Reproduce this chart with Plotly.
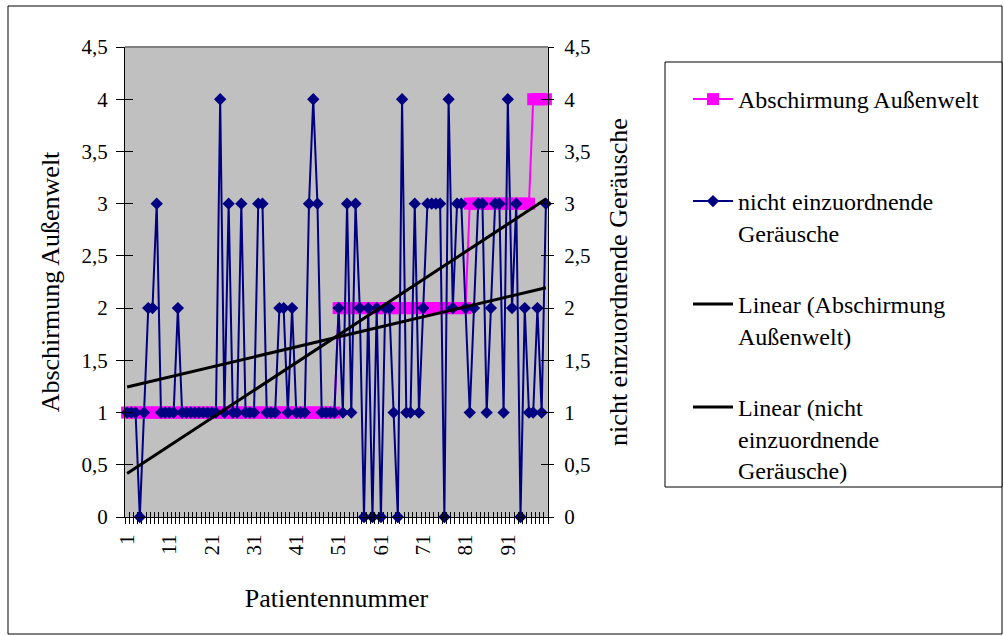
import numpy as np
import plotly.graph_objects as go

# Patient numbers (category axis)
patients = list(range(1, 101))

# Rating "Abschirmung Außenwelt" per patient
abschirmung = [
    1, 1, 1, 1, 1, 1, 1, 1, 1, 1,
    1, 1, 1, 1, 1, 1, 1, 1, 1, 1,
    1, 1, 1, 1, 1, 1, 1, 1, 1, 1,
    1, 1, 1, 1, 1, 1, 1, 1, 1, 1,
    1, 1, 1, 1, 1, 1, 1, 1, 1, 1,
    2, 2, 2, 2, 2, 2, 2, 2, 2, 2,
    2, 2, 2, 2, 2, 2, 2, 2, 2, 2,
    2, 2, 2, 2, 2, 2, 2, 2, 2, 2,
    2, 3, 3, 3, 3, 3, 3, 3, 3, 3,
    3, 3, 3, 3, 3, 3, 4, 4, 4, 4,
]

# Rating "nicht einzuordnende Geräusche" per patient
geraeusche = [
    1, 1, 1, 0, 1, 2, 2, 3, 1, 1,
    1, 1, 2, 1, 1, 1, 1, 1, 1, 1,
    1, 1, 4, 1, 3, 1, 1, 3, 1, 1,
    1, 3, 3, 1, 1, 1, 2, 2, 1, 2,
    1, 1, 1, 3, 4, 3, 1, 1, 1, 1,
    2, 1, 3, 1, 3, 2, 0, 2, 0, 2,
    0, 2, 2, 1, 0, 4, 1, 1, 3, 1,
    2, 3, 3, 3, 3, 0, 4, 2, 3, 3,
    2, 1, 2, 3, 3, 1, 2, 3, 3, 1,
    4, 2, 3, 0, 2, 1, 1, 2, 1, 3,
]

# Category labels shown on the x axis (every tenth patient)
x_labels = ["1", "11", "21", "31", "41", "51", "61", "71", "81", "91"]

x = np.array(patients, dtype=float)


def linear_fit(values):
    slope, intercept = np.polyfit(x, np.array(values, dtype=float), 1)
    xs = [x[0], x[-1]]
    return xs, [intercept + slope * v for v in xs]


FONT = "Liberation Serif, Times New Roman, serif"
TICK_FS = 21
TITLE_FS = 26
LEGEND_FS = 24

# plot area in pixels (left, right, top, bottom)
L, R, T, B = 125, 548, 47, 517
W, H = 1004, 636


def px_x(p):
    return (p - L) / (R - L)


def px_y(p):
    return (B - p) / (B - T)


fig = go.Figure()

fig.add_trace(go.Scatter(
    x=patients, y=abschirmung, name="Abschirmung Außenwelt",
    mode="lines+markers",
    line=dict(color="#FF00FF", width=2),
    marker=dict(symbol="square", size=12, color="#FF00FF"),
    cliponaxis=False, showlegend=True,
    xaxis="x", yaxis="y", legend="legend",
))

fig.add_trace(go.Scatter(
    x=patients, y=geraeusche, name="nicht einzuordnende<br>Geräusche",
    mode="lines+markers",
    line=dict(color="#000080", width=2),
    marker=dict(symbol="diamond", size=9.5, color="#000080"),
    cliponaxis=False, showlegend=True,
    xaxis="x", yaxis="y2", legend="legend2",
))

tx, ty = linear_fit(abschirmung)
fig.add_trace(go.Scatter(
    x=tx, y=ty, name="Linear (Abschirmung<br>Außenwelt)", mode="lines",
    line=dict(color="black", width=3), showlegend=True,
    xaxis="x", yaxis="y2", legend="legend3",
))

tx, ty = linear_fit(geraeusche)
fig.add_trace(go.Scatter(
    x=tx, y=ty, name="Linear (nicht<br>einzuordnende<br>Geräusche)", mode="lines",
    line=dict(color="black", width=3), showlegend=True,
    xaxis="x", yaxis="y2", legend="legend4",
))

# empty helper traces so the tick-only overlay axes get drawn
for xa, ya in [("x2", "y"), ("x3", "y"), ("x", "y3"), ("x", "y4")]:
    fig.add_trace(go.Scatter(x=[None], y=[None], mode="markers",
                             showlegend=False, hoverinfo="skip",
                             xaxis=xa, yaxis=ya))

xrange = [0.5, len(patients) + 0.5]
boundaries = [p - 0.5 for p in patients] + [patients[-1] + 0.5]
label_vals = [int(s) for s in x_labels]
tickfont = dict(family=FONT, size=TICK_FS, color="black")
titlefont = dict(family=FONT, size=TITLE_FS, color="black")

common_off = dict(showgrid=False, zeroline=False)

legend_common = dict(
    bgcolor="rgba(0,0,0,0)", borderwidth=0,
    font=dict(family=FONT, size=LEGEND_FS, color="black"),
    xanchor="left", yanchor="top", valign="top",
    itemwidth=40,
)

fig.update_layout(
    width=W, height=H,
    margin=dict(l=L, r=W - R, t=T, b=H - B),
    paper_bgcolor="white",
    plot_bgcolor="#C0C0C0",
    separators=",.",
    showlegend=True,
    font=dict(family=FONT, size=TICK_FS, color="black"),
    xaxis=dict(
        range=xrange, tickmode="array", tickvals=label_vals, ticktext=x_labels,
        tickangle=-90, ticks="", showline=True, linecolor="black", linewidth=1,
        tickfont=tickfont, anchor="y", ticklabelstandoff=8,
        title=dict(text="Patientennummer", font=titlefont, standoff=34),
        **common_off,
    ),
    xaxis2=dict(
        range=xrange, overlaying="x", anchor="y", tickmode="array",
        tickvals=boundaries, ticks="outside", ticklen=6, tickcolor="black",
        tickwidth=1, showticklabels=False, showline=False, **common_off,
    ),
    xaxis3=dict(
        range=xrange, overlaying="x", anchor="y", tickmode="array",
        tickvals=boundaries, ticks="inside", ticklen=5, tickcolor="black",
        tickwidth=1, showticklabels=False, showline=False, **common_off,
    ),
    yaxis=dict(
        range=[0, 4.5], dtick=0.5, tick0=0, ticks="outside", ticklen=8,
        tickcolor="black", showline=True, linecolor="black", linewidth=1,
        tickfont=tickfont, anchor="x", ticklabelstandoff=4,
        title=dict(text="Abschirmung Außenwelt", font=titlefont, standoff=14),
        **common_off,
    ),
    yaxis2=dict(
        range=[0, 4.5], dtick=0.5, tick0=0, ticks="outside", ticklen=5,
        tickcolor="black", showline=True, linecolor="black", linewidth=1,
        tickfont=tickfont, overlaying="y", side="right", anchor="x",
        ticklabelstandoff=6,
        title=dict(text="nicht einzuordnende Geräusche", font=titlefont, standoff=19),
        **common_off,
    ),
    yaxis3=dict(
        range=[0, 4.5], dtick=0.5, tick0=0, ticks="inside", ticklen=8,
        tickcolor="black", showline=False, showticklabels=False,
        overlaying="y", side="left", anchor="x", **common_off,
    ),
    yaxis4=dict(
        range=[0, 4.5], dtick=0.5, tick0=0, ticks="inside", ticklen=7,
        tickcolor="black", showline=False, showticklabels=False,
        overlaying="y", side="right", anchor="x", **common_off,
    ),
    legend=dict(x=px_x(688), y=px_y(77), **legend_common),
    legend2=dict(x=px_x(688), y=px_y(179), **legend_common),
    legend3=dict(x=px_x(688), y=px_y(282), **legend_common),
    legend4=dict(x=px_x(688), y=px_y(385), **legend_common),
    shapes=[
        # outer chart frame
        dict(type="rect", xref="paper", yref="paper",
             x0=px_x(8), x1=px_x(1002), y0=px_y(634), y1=px_y(6),
             line=dict(color="black", width=1), fillcolor="rgba(0,0,0,0)",
             layer="below"),
        # legend frame
        dict(type="rect", xref="paper", yref="paper",
             x0=px_x(665), x1=px_x(1002), y0=px_y(487), y1=px_y(62),
             line=dict(color="black", width=1), fillcolor="white",
             layer="below"),
        # top edge of the plot area
        dict(type="line", xref="paper", yref="paper",
             x0=0, x1=1, y0=1, y1=1,
             line=dict(color="#808080", width=2)),
    ],
)

fig.write_html("out.html")
